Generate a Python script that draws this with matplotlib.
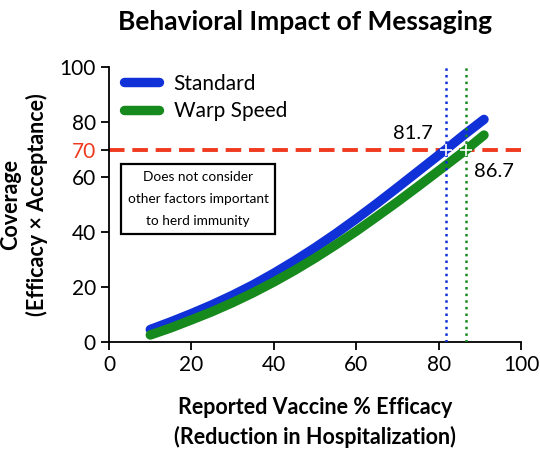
import matplotlib.pyplot as plt

plt.rcParams["font.family"] = ["Lato", "DejaVu Sans"]

# Efficacy (%) and coverage (%)
efficacy = [10, 15, 20, 25, 30, 35, 40, 45, 50, 55, 60, 65, 70, 75, 81.7, 86, 91]
standard_cov = [4.5, 7.3, 10.3, 13.5, 17.0, 20.8, 25.0, 29.5, 34.3, 39.4,
                44.8, 50.4, 56.2, 62.1, 70.0, 75.2, 81.0]
warp_efficacy = [10, 15, 20, 25, 30, 35, 40, 45, 50, 55, 60, 65, 70, 75, 80, 86.7, 91]
warp_cov = [2.5, 5.1, 8.0, 11.0, 14.3, 17.9, 21.8, 26.0, 30.5, 35.3,
            40.3, 45.6, 51.0, 56.6, 62.3, 70.0, 75.3]

threshold = 70
cross_standard = 81.7
cross_warp = 86.7

blue = "#1030d8"
green = "#178a1e"
red = "#f03a20"

fig = plt.figure(figsize=(5.4, 4.51), dpi=100)
ax = fig.add_axes([0.202, 0.242, 0.763, 0.609])

ax.plot(efficacy, standard_cov, color=blue, linewidth=6.8,
        solid_capstyle="round", label="Standard", zorder=3)
ax.plot(warp_efficacy, warp_cov, color=green, linewidth=6.8,
        solid_capstyle="round", label="Warp Speed", zorder=3)

ax.axhline(threshold, color=red, linestyle=(0, (4, 2.0)), linewidth=2.8, zorder=2)
ax.axvline(cross_standard, color=blue, linestyle=":", linewidth=1.8, zorder=4)
ax.axvline(cross_warp, color=green, linestyle=":", linewidth=1.8, zorder=4)
ax.plot([cross_standard, cross_warp], [threshold, threshold], "+",
        color="white", markersize=8, markeredgewidth=1.2, zorder=5)

ax.text(cross_standard - 3.2, threshold + 2.8, "81.7", fontsize=14.5,
        ha="right", va="bottom")
ax.text(cross_warp + 1.8, threshold - 5.0, "86.7", fontsize=14.5,
        ha="left", va="top")

ax.text(21.6, 52, "Does not consider\nother factors important\nto herd immunity",
        fontsize=9.8, ha="center", va="center", linespacing=2.0,
        bbox=dict(boxstyle="square,pad=0.5", facecolor="white",
                  edgecolor="black", linewidth=1.6))

ax.set_xlim(0, 100)
ax.set_ylim(0, 100)
ax.set_xticks([0, 20, 40, 60, 80, 100])
ax.set_yticks([0, 20, 40, 60, 70, 80, 100])
ax.set_yticklabels(["0", "20", "40", "60", "70", "80", "100"])
ax.get_yticklabels()[4].set_color(red)
ax.tick_params(labelsize=15, width=1.3, length=6)

for side in ["top", "right"]:
    ax.spines[side].set_visible(False)
for side in ["left", "bottom"]:
    ax.spines[side].set_linewidth(1.3)

ax.set_xlabel("Reported Vaccine % Efficacy\n(Reduction in Hospitalization)",
              fontsize=15.5, fontweight="bold", labelpad=16, linespacing=1.45)
ax.set_ylabel("Coverage\n(Efficacy \u00d7 Acceptance)",
              fontsize=15.5, fontweight="bold", labelpad=8, linespacing=1.3)
ax.set_title("Behavioral Impact of Messaging", fontsize=19,
             fontweight="bold", pad=27, x=0.476)

ax.legend(loc="upper left", bbox_to_anchor=(0.0, 1.03), frameon=False,
          fontsize=15, handlelength=1.7, handletextpad=0.7,
          labelspacing=0.35, borderaxespad=0.3)

plt.savefig("out.png", dpi=100)
plt.close()
